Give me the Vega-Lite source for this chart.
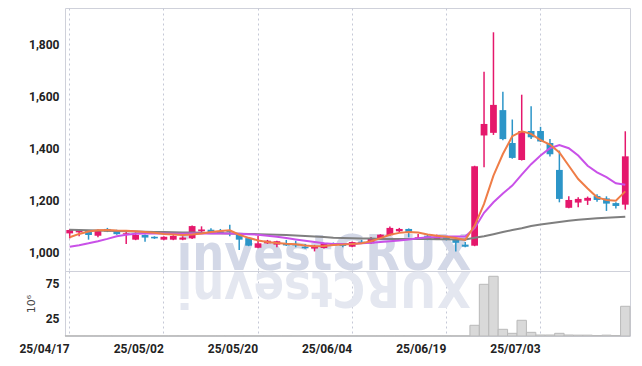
{
  "$schema": "https://vega.github.io/schema/vega-lite/v6.json",
  "autosize": {"type": "pad"},
  "padding": {"left": 18, "top": 7, "right": 9, "bottom": 3},
  "background": "white",
  "spacing": 0,
  "bounds": "flush",
  "config": {
    "view": {"stroke": "#cfd1da", "strokeWidth": 1},
    "axis": {
      "labelFont": "Roboto",
      "labelFontWeight": "bold",
      "labelFontSize": 12,
      "labelColor": "#222222",
      "ticks": false,
      "domain": false,
      "gridColor": "#c5c8d6",
      "gridDash": [2, 3],
      "gridWidth": 1
    }
  },
  "datasets": {
    "d": [
      {"date": "25/04/17", "o": 1075, "h": 1091, "l": 1056, "c": 1088, "v": 0.3, "m5": 1060, "m20": 1024, "m60": 1089},
      {"date": "25/04/18", "o": 1079, "h": 1090, "l": 1064, "c": 1088, "v": 0.3, "m5": 1073, "m20": 1030, "m60": 1088},
      {"date": "25/04/21", "o": 1085, "h": 1088, "l": 1051, "c": 1069, "v": 0.3, "m5": 1082, "m20": 1037, "m60": 1087},
      {"date": "25/04/22", "o": 1066, "h": 1090, "l": 1060, "c": 1088, "v": 0.3, "m5": 1087, "m20": 1045, "m60": 1086},
      {"date": "25/04/23", "o": 1092, "h": 1096, "l": 1080, "c": 1082, "v": 0.3, "m5": 1088, "m20": 1054, "m60": 1085},
      {"date": "25/04/24", "o": 1087, "h": 1089, "l": 1070, "c": 1072, "v": 0.3, "m5": 1086, "m20": 1064, "m60": 1084},
      {"date": "25/04/25", "o": 1072, "h": 1084, "l": 1034, "c": 1076, "v": 0.3, "m5": 1085, "m20": 1070, "m60": 1083},
      {"date": "25/04/28", "o": 1051, "h": 1079, "l": 1049, "c": 1069, "v": 0.3, "m5": 1083, "m20": 1074, "m60": 1082},
      {"date": "25/04/29", "o": 1069, "h": 1071, "l": 1043, "c": 1059, "v": 0.3, "m5": 1080, "m20": 1075, "m60": 1081},
      {"date": "25/04/30", "o": 1062, "h": 1064, "l": 1054, "c": 1056, "v": 0.3, "m5": 1077, "m20": 1075, "m60": 1080},
      {"date": "25/05/02", "o": 1051, "h": 1064, "l": 1049, "c": 1062, "v": 0.3, "m5": 1073, "m20": 1075, "m60": 1080},
      {"date": "25/05/07", "o": 1051, "h": 1068, "l": 1049, "c": 1065, "v": 0.3, "m5": 1071, "m20": 1074, "m60": 1079},
      {"date": "25/05/08", "o": 1051, "h": 1064, "l": 1049, "c": 1059, "v": 0.3, "m5": 1069, "m20": 1074, "m60": 1078},
      {"date": "25/05/09", "o": 1056, "h": 1105, "l": 1054, "c": 1103, "v": 0.3, "m5": 1071, "m20": 1075, "m60": 1078},
      {"date": "25/05/12", "o": 1083, "h": 1102, "l": 1080, "c": 1090, "v": 0.3, "m5": 1075, "m20": 1075, "m60": 1077},
      {"date": "25/05/13", "o": 1089, "h": 1095, "l": 1077, "c": 1079, "v": 0.3, "m5": 1080, "m20": 1075, "m60": 1076},
      {"date": "25/05/14", "o": 1083, "h": 1092, "l": 1074, "c": 1076, "v": 0.3, "m5": 1084, "m20": 1075, "m60": 1076},
      {"date": "25/05/15", "o": 1084, "h": 1108, "l": 1064, "c": 1080, "v": 0.3, "m5": 1087, "m20": 1075, "m60": 1075},
      {"date": "25/05/16", "o": 1070, "h": 1072, "l": 1011, "c": 1051, "v": 0.3, "m5": 1070, "m20": 1074, "m60": 1074},
      {"date": "25/05/19", "o": 1057, "h": 1059, "l": 1026, "c": 1028, "v": 0.3, "m5": 1058, "m20": 1072, "m60": 1073},
      {"date": "25/05/20", "o": 1020, "h": 1066, "l": 1018, "c": 1037, "v": 0.3, "m5": 1048, "m20": 1070, "m60": 1072},
      {"date": "25/05/21", "o": 1037, "h": 1050, "l": 1035, "c": 1047, "v": 0.3, "m5": 1042, "m20": 1066, "m60": 1071},
      {"date": "25/05/22", "o": 1032, "h": 1047, "l": 1022, "c": 1045, "v": 0.3, "m5": 1038, "m20": 1062, "m60": 1070},
      {"date": "25/05/23", "o": 1036, "h": 1050, "l": 1027, "c": 1029, "v": 0.3, "m5": 1035, "m20": 1057, "m60": 1069},
      {"date": "25/05/26", "o": 1032, "h": 1047, "l": 1022, "c": 1029, "v": 0.3, "m5": 1033, "m20": 1052, "m60": 1067},
      {"date": "25/05/27", "o": 1024, "h": 1034, "l": 1016, "c": 1018, "v": 0.3, "m5": 1029, "m20": 1047, "m60": 1065},
      {"date": "25/05/28", "o": 1017, "h": 1031, "l": 1006, "c": 1023, "v": 0.3, "m5": 1026, "m20": 1042, "m60": 1063},
      {"date": "25/05/29", "o": 1019, "h": 1039, "l": 1017, "c": 1037, "v": 0.3, "m5": 1027, "m20": 1037, "m60": 1061},
      {"date": "25/05/30", "o": 1037, "h": 1040, "l": 1027, "c": 1029, "v": 0.3, "m5": 1031, "m20": 1034, "m60": 1058},
      {"date": "25/06/02", "o": 1032, "h": 1036, "l": 1022, "c": 1027, "v": 0.3, "m5": 1032, "m20": 1034, "m60": 1057},
      {"date": "25/06/04", "o": 1024, "h": 1044, "l": 1022, "c": 1042, "v": 0.3, "m5": 1034, "m20": 1034, "m60": 1056},
      {"date": "25/06/05", "o": 1043, "h": 1050, "l": 1035, "c": 1037, "v": 0.3, "m5": 1037, "m20": 1037, "m60": 1055},
      {"date": "25/06/09", "o": 1037, "h": 1061, "l": 1035, "c": 1057, "v": 0.3, "m5": 1045, "m20": 1039, "m60": 1055},
      {"date": "25/06/10", "o": 1057, "h": 1072, "l": 1055, "c": 1070, "v": 0.3, "m5": 1057, "m20": 1042, "m60": 1054},
      {"date": "25/06/11", "o": 1068, "h": 1101, "l": 1066, "c": 1096, "v": 0.3, "m5": 1070, "m20": 1045, "m60": 1054},
      {"date": "25/06/12", "o": 1083, "h": 1096, "l": 1080, "c": 1092, "v": 0.3, "m5": 1077, "m20": 1048, "m60": 1054},
      {"date": "25/06/13", "o": 1092, "h": 1094, "l": 1060, "c": 1078, "v": 0.3, "m5": 1080, "m20": 1052, "m60": 1054},
      {"date": "25/06/16", "o": 1052, "h": 1073, "l": 1050, "c": 1060, "v": 0.3, "m5": 1078, "m20": 1056, "m60": 1054},
      {"date": "25/06/17", "o": 1064, "h": 1073, "l": 1049, "c": 1051, "v": 0.3, "m5": 1071, "m20": 1060, "m60": 1054},
      {"date": "25/06/18", "o": 1052, "h": 1071, "l": 1050, "c": 1063, "v": 0.3, "m5": 1066, "m20": 1061, "m60": 1053},
      {"date": "25/06/19", "o": 1060, "h": 1064, "l": 1048, "c": 1050, "v": 0.3, "m5": 1062, "m20": 1063, "m60": 1053},
      {"date": "25/06/20", "o": 1053, "h": 1056, "l": 1006, "c": 1039, "v": 0.3, "m5": 1057, "m20": 1063, "m60": 1052},
      {"date": "25/06/23", "o": 1032, "h": 1042, "l": 1022, "c": 1024, "v": 0.3, "m5": 1050, "m20": 1063, "m60": 1052},
      {"date": "25/06/24", "o": 1028, "h": 1334, "l": 1026, "c": 1332, "v": 15.2, "m5": 1104, "m20": 1095, "m60": 1058},
      {"date": "25/06/25", "o": 1450, "h": 1694, "l": 1328, "c": 1494, "v": 73.4, "m5": 1188, "m20": 1154, "m60": 1064},
      {"date": "25/06/26", "o": 1460, "h": 1845, "l": 1452, "c": 1567, "v": 84.8, "m5": 1296, "m20": 1194, "m60": 1072},
      {"date": "25/06/27", "o": 1547, "h": 1617, "l": 1432, "c": 1436, "v": 9.5, "m5": 1379, "m20": 1228, "m60": 1080},
      {"date": "25/06/30", "o": 1421, "h": 1511, "l": 1361, "c": 1364, "v": 3.8, "m5": 1447, "m20": 1258, "m60": 1088},
      {"date": "25/07/01", "o": 1356, "h": 1606, "l": 1354, "c": 1467, "v": 22.3, "m5": 1466, "m20": 1300, "m60": 1095},
      {"date": "25/07/02", "o": 1467, "h": 1562, "l": 1436, "c": 1443, "v": 5.2, "m5": 1456, "m20": 1340, "m60": 1103},
      {"date": "25/07/03", "o": 1467, "h": 1483, "l": 1425, "c": 1427, "v": 1.4, "m5": 1432, "m20": 1373, "m60": 1109},
      {"date": "25/07/04", "o": 1421, "h": 1436, "l": 1369, "c": 1378, "v": 1.4, "m5": 1415, "m20": 1401, "m60": 1114},
      {"date": "25/07/07", "o": 1318, "h": 1392, "l": 1194, "c": 1207, "v": 3.8, "m5": 1385, "m20": 1413, "m60": 1119},
      {"date": "25/07/08", "o": 1173, "h": 1217, "l": 1171, "c": 1203, "v": 1.4, "m5": 1334, "m20": 1401, "m60": 1123},
      {"date": "25/07/09", "o": 1193, "h": 1213, "l": 1175, "c": 1207, "v": 1.2, "m5": 1283, "m20": 1373, "m60": 1127},
      {"date": "25/07/10", "o": 1200, "h": 1216, "l": 1184, "c": 1211, "v": 1.2, "m5": 1247, "m20": 1334, "m60": 1130},
      {"date": "25/07/11", "o": 1218, "h": 1225, "l": 1196, "c": 1203, "v": 0.6, "m5": 1213, "m20": 1309, "m60": 1133},
      {"date": "25/07/14", "o": 1209, "h": 1217, "l": 1161, "c": 1189, "v": 1.2, "m5": 1203, "m20": 1290, "m60": 1135},
      {"date": "25/07/15", "o": 1191, "h": 1194, "l": 1170, "c": 1180, "v": 0.6, "m5": 1200, "m20": 1267, "m60": 1137},
      {"date": "25/07/16", "o": 1185, "h": 1466, "l": 1166, "c": 1370, "v": 42.2, "m5": 1236, "m20": 1261, "m60": 1139}
    ]
  },
  "vconcat": [
    {
      "width": 565,
      "height": 263,
      "layer": [
        {
          "data": {"values": [{"t": "investCRUX"}]},
          "mark": {"type": "text", "font": "DejaVu Sans Condensed", "fontWeight": "bold", "fontSize": 50, "color": "#d3d8e7", "baseline": "alphabetic", "align": "center"},
          "encoding": {
            "x": {"datum": "25/05/29", "type": "ordinal"},
            "y": {"datum": 933, "type": "quantitative"},
            "text": {"field": "t"}
          }
        },
        {
          "data": {"name": "d"},
          "mark": {"type": "rule", "strokeWidth": 1.5},
          "encoding": {
            "x": {
              "field": "date", "type": "ordinal",
              "scale": {"type": "band", "paddingInner": 0, "paddingOuter": 0},
              "axis": {"values": ["25/04/17", "25/05/02", "25/05/20", "25/06/04", "25/06/19", "25/07/03"], "labels": false, "title": null, "grid": true, "bandPosition": 0.5}
            },
            "y": {"field": "l", "type": "quantitative", "scale": {"domain": [931, 1938], "nice": false, "zero": false},
              "axis": {"values": [1000, 1200, 1400, 1600, 1800], "format": ",d", "title": null, "labelPadding": 6}},
            "y2": {"field": "h"},
            "color": {"condition": {"test": "datum.c >= datum.o", "value": "#e5186c"}, "value": "#2c95c8"}
          }
        },
        {
          "data": {"name": "d"},
          "mark": {"type": "bar", "width": {"band": 0.72}},
          "encoding": {
            "x": {"field": "date", "type": "ordinal"},
            "y": {"field": "o", "type": "quantitative"},
            "y2": {"field": "c"},
            "color": {"condition": {"test": "datum.c >= datum.o", "value": "#e5186c"}, "value": "#2c95c8"}
          }
        },
        {
          "data": {"name": "d"},
          "mark": {"type": "line", "color": "#7f7f7f", "strokeWidth": 2},
          "encoding": {"x": {"field": "date", "type": "ordinal"}, "y": {"field": "m60", "type": "quantitative"}}
        },
        {
          "data": {"name": "d"},
          "mark": {"type": "line", "color": "#c951e8", "strokeWidth": 2},
          "encoding": {"x": {"field": "date", "type": "ordinal"}, "y": {"field": "m20", "type": "quantitative"}}
        },
        {
          "data": {"name": "d"},
          "mark": {"type": "line", "color": "#ef7d47", "strokeWidth": 2},
          "encoding": {"x": {"field": "date", "type": "ordinal"}, "y": {"field": "m5", "type": "quantitative"}}
        }
      ]
    },
    {
      "width": 565,
      "height": 65,
      "layer": [
        {
          "data": {"values": [{"t": "XURCtsevni"}]},
          "mark": {"type": "text", "font": "DejaVu Sans Condensed", "fontWeight": "bold", "fontSize": 50, "color": "#e4e7f0", "baseline": "alphabetic", "align": "center", "angle": 180},
          "encoding": {
            "x": {"datum": "25/05/29", "type": "ordinal"},
            "y": {"datum": 90.5, "type": "quantitative"},
            "text": {"field": "t"}
          }
        },
        {
          "data": {"name": "d"},
          "mark": {"type": "bar", "fill": "#d9d9d9", "stroke": "#b9b9b9", "strokeWidth": 1},
          "encoding": {
            "x": {
              "field": "date", "type": "ordinal",
              "scale": {"type": "band", "paddingInner": 0, "paddingOuter": 0},
              "axis": {"values": ["25/04/17", "25/05/02", "25/05/20", "25/06/04", "25/06/19", "25/07/03"], "title": null, "grid": true, "bandPosition": 0.5, "labelAngle": 0, "labelPadding": 12}
            },
            "y": {"field": "v", "type": "quantitative", "scale": {"domain": [0, 92.3], "nice": false},
              "axis": {"values": [25, 50, 75], "title": "10⁶", "titleFont": "DejaVu Sans", "titleFontWeight": "normal", "titleFontSize": 11, "titleColor": "#444444", "titlePadding": 9, "labelPadding": 6}}
          }
        }
      ]
    }
  ]
}
